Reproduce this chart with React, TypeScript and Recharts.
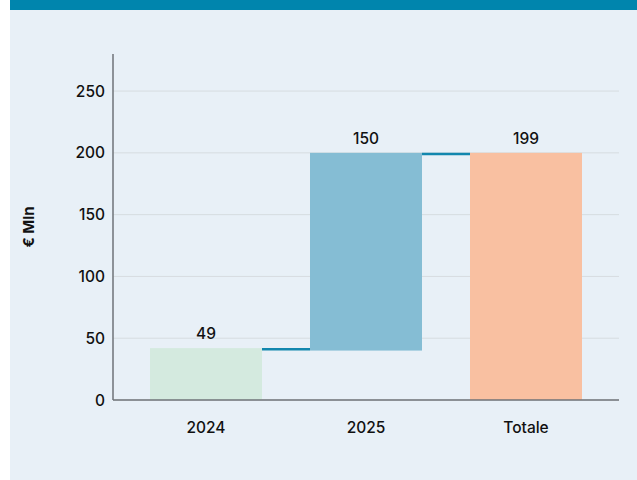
import React from 'react';
import {
  BarChart,
  Bar,
  XAxis,
  YAxis,
  CartesianGrid,
  Cell,
  LabelList,
} from 'recharts';

const categories = ['2024', '2025', 'Totale'];
const barStart = [0, 40, 0];
const barEnd = [42, 200, 200];
const barLabels = [49, 150, 199];
const yTicks = [0, 50, 100, 150, 200, 250];

const barColors = ['#D4EADF', '#85BDD4', '#F9C0A1'];
const FONT = 'Inter, "Noto Sans", sans-serif';

const data = categories.map((name, i) => ({
  name,
  range: [barStart[i], barEnd[i]],
  label: barLabels[i],
}));

// bar + connector line to the next bar (waterfall)
const WaterfallBar = (props: any) => {
  const { x, y, width, height, fill, payload } = props;
  const gap = (width * 0.3) / 0.7;
  const last = payload && payload.name === categories[categories.length - 1];
  return (
    <g>
      <rect x={x} y={y} width={width} height={height} fill={fill} />
      {!last && (
        <line
          x1={x + width}
          x2={x + width + gap}
          y1={y + 1.25}
          y2={y + 1.25}
          stroke="#1287AE"
          strokeWidth={2.5}
        />
      )}
    </g>
  );
};

const tickStyle = { fontSize: 15.5, fill: '#111', fontFamily: FONT, fontWeight: 500 };

const App = () => {
  return (
    <div style={{ position: 'absolute', left: 0, top: 0, width: 637, height: 480, background: '#fff' }}>
      <div style={{ position: 'absolute', left: 10, top: 0, width: 627, height: 10, background: '#0085AD' }} />
      <div style={{ position: 'absolute', left: 10, top: 10, width: 627, height: 470, background: '#E8F0F7' }}>
        <BarChart
          width={627}
          height={470}
          data={data}
          margin={{ top: 44, right: 18, left: 10, bottom: 50 }}
          barCategoryGap="15%"
        >
          <CartesianGrid stroke="#D6DCE0" vertical={false} syncWithTicks />
          <XAxis
            dataKey="name"
            height={30}
            padding={{ left: 13, right: 13 }}
            axisLine={{ stroke: '#6F7378', strokeWidth: 1.5 }}
            tickLine={false}
            tickMargin={16}
            tick={tickStyle}
          />
          <YAxis
            width={93}
            domain={[0, 280]}
            ticks={yTicks}
            axisLine={{ stroke: '#6F7378', strokeWidth: 1.5 }}
            tickLine={false}
            tick={tickStyle}
            label={{
              value: '€ Mln',
              angle: -90,
              position: 'insideLeft',
              offset: 9,
              style: { textAnchor: 'middle', fontSize: 15, fontWeight: 700, fill: '#111', fontFamily: FONT },
            }}
          />
          <Bar dataKey="range" shape={<WaterfallBar />} isAnimationActive={false}>
            {data.map((d, i) => (
              <Cell key={d.name} fill={barColors[i]} />
            ))}
            <LabelList dataKey="label" position="top" offset={9} style={tickStyle} />
          </Bar>
        </BarChart>
      </div>
    </div>
  );
};

export default App;
